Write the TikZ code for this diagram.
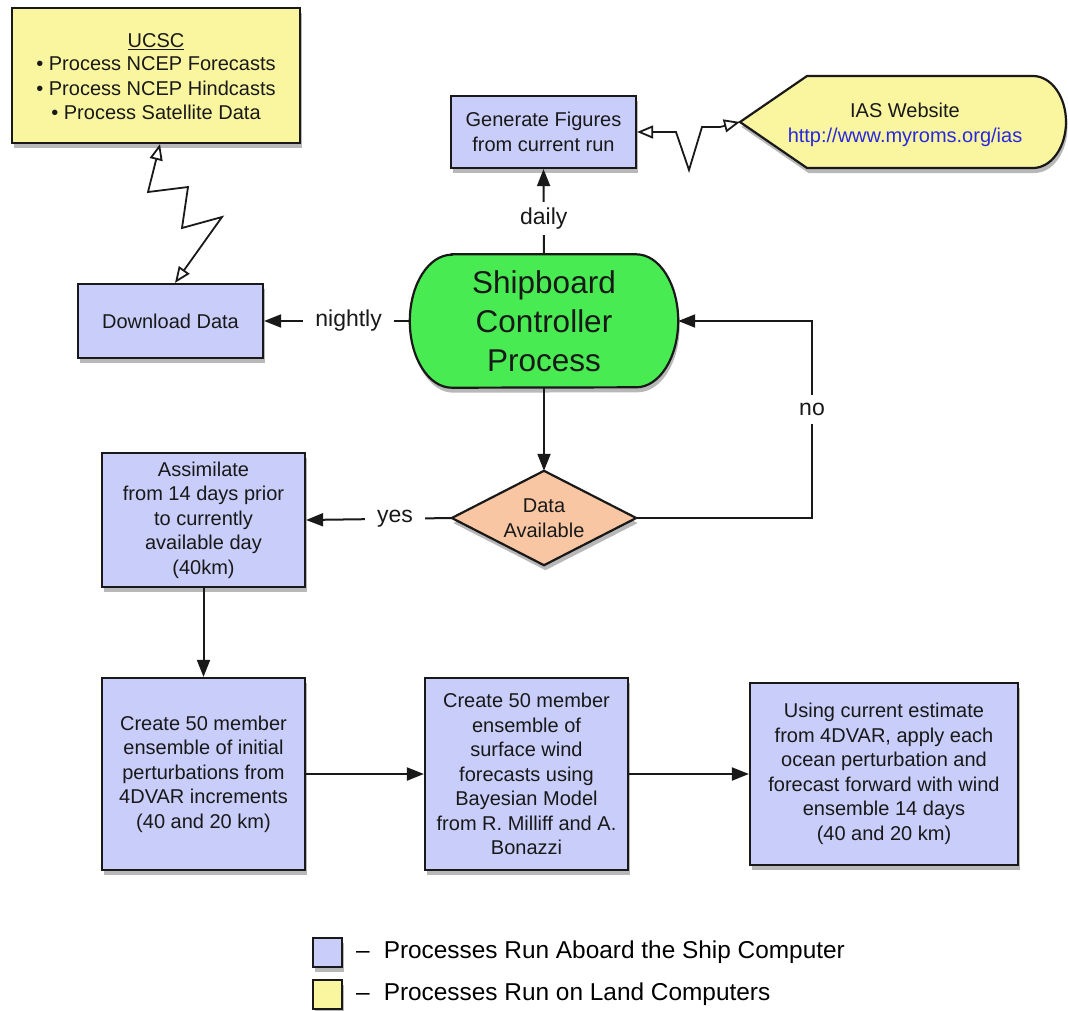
\documentclass[tikz,border=0pt]{standalone}
\usepackage{fontspec}
\setmainfont{Liberation Sans}
\usetikzlibrary{arrows.meta,shadows,calc,backgrounds}
\definecolor{shipblue}{RGB}{200,205,250}
\definecolor{landyellow}{RGB}{250,246,160}
\definecolor{ctrlgreen}{RGB}{72,236,82}
\definecolor{peach}{RGB}{248,198,162}
\definecolor{urlblue}{RGB}{40,40,225}
\definecolor{ink}{RGB}{25,25,25}
\begin{document}
\begin{tikzpicture}[x=1pt,y=-1pt,
  shad/.style={drop shadow={shadow xshift=1.5pt,shadow yshift=-5pt,opacity=.28,fill=black}},
  boxtext/.style={font=\fontsize{20}{24.5}\selectfont, text=ink, align=center},
  bluebox/.style={boxtext, draw=ink, line width=2.2pt, fill=shipblue, inner sep=0pt, shad},
  yellowbox/.style={boxtext, draw=ink, line width=2.2pt, fill=landyellow, inner sep=0pt, shad},
  shapeline/.style={draw=ink, line width=2.2pt, shad},
  arr/.style={draw=ink, line width=2pt, -{Triangle[length=17pt,width=13pt]}},
  bolt/.style={draw=ink, line width=1.8pt, {Triangle[open,length=16pt,width=13pt]}-{Triangle[open,length=16pt,width=13pt]}},
  lbl/.style={fill=white, text=ink, font=\fontsize{23}{28}\selectfont, inner xsep=12pt, inner ysep=6pt},
  legsq/.style={draw=ink, line width=2pt, minimum width=29pt, minimum height=29pt, inner sep=0pt, shad},
  legtext/.style={text=black, font=\fontsize{24.4}{29}\selectfont, anchor=west, inner sep=0pt}
]
\useasboundingbox (0,0) rectangle (1068,1010);

% nodes
\node[yellowbox, minimum width=288pt, minimum height=135pt] (ucsc) at (156,75.5)
  {\rule{0pt}{6pt}\\[-14pt]\underline{UCSC}\\[-1pt]• Process NCEP Forecasts\\• Process NCEP Hindcasts\\• Process Satellite Data};
\node[bluebox, minimum width=185pt, minimum height=72pt] (gen) at (543.5,132) {Generate Figures\\from current run};
\node[bluebox, minimum width=185pt, minimum height=74pt] (dl) at (170.5,321) {Download Data};
\node[boxtext, font=\fontsize{31.5}{39}\selectfont, minimum width=268pt, minimum height=133pt, inner sep=0pt] (ship) at (544,321)
  {Shipboard\\Controller\\Process};
\node[boxtext, minimum width=184pt, minimum height=94pt, inner sep=0pt] (dav) at (544,518) {Data\\Available};
\node[boxtext] (ias) at (905,125) {IAS Website\\\textcolor{urlblue}{http://www.myroms.org/ias}};
\coordinate (iastip) at (740,122);
\node[bluebox, minimum width=203pt, minimum height=134pt] (assim) at (203.5,520)
  {Assimilate\\from 14 days prior\\to currently\\available day\\(40km)};
\node[bluebox, minimum width=203pt, minimum height=192pt] (ens) at (203.5,774)
  {Create 50 member\\ensemble of initial\\perturbations from\\4DVAR increments\\(40 and 20 km)};
\node[bluebox, minimum width=203pt, minimum height=192pt] (wind) at (526.5,774)
  {Create 50 member\\ensemble of\\surface wind\\forecasts using\\Bayesian Model\\from R. Milliff and A.\\Bonazzi};
\node[bluebox, minimum width=268pt, minimum height=182pt] (fcst) at (884,774)
  {Using current estimate\\from 4DVAR, apply each\\ocean perturbation and\\forecast forward with wind\\ensemble 14 days\\(40 and 20 km)};

% shapes drawn behind their texts
\begin{scope}[on background layer]
  \filldraw[shapeline, fill=ctrlgreen]
    ($(ship.north west)+(42,0)$) -- ($(ship.north east)+(-42,0)$)
    arc[start angle=90,end angle=-90,x radius=42pt,y radius=66.5pt]
    -- ($(ship.south west)+(42,0)$)
    arc[start angle=270,end angle=90,x radius=42pt,y radius=66.5pt] -- cycle;
  \filldraw[shapeline, fill=peach] (dav.north) -- (dav.east) -- (dav.south) -- (dav.west) -- cycle;
  \filldraw[shapeline, fill=landyellow] (iastip) -- (807,76) -- (1033,76)
    arc[start angle=90,end angle=-90,x radius=33pt,y radius=46pt] -- (807,168) -- cycle;
\end{scope}

% connectors
\coordinate (nocorner) at (812,518);
\draw[arr] (ship.north) -- node[lbl,pos=0.42,inner xsep=6pt]{daily} (gen.south);
\draw[arr] (ship.west) -- node[lbl,pos=0.42]{nightly} (dl.east);
\draw[arr] (ship.south) -- (dav.north);
\draw[arr] (dav.west) -- node[lbl,pos=0.39]{yes} (assim.east);
\draw[arr] (dav.east) -- (nocorner) -- node[lbl,pos=0.55,inner xsep=4pt,inner ysep=8pt]{no} (nocorner |- ship.east) -- (ship.east);
\draw[arr] (assim.south) -- (ens.north);
\draw[arr] (ens.east) -- (wind.west);
\draw[arr] (wind.east) -- (fcst.west);

\draw[bolt] ([xshift=4pt]ucsc.south) -- (148,192) -- (188,187) -- (182,228) -- (222,217) -- ([xshift=4.5pt]dl.north);
\draw[bolt] (gen.east) -- (676,132) -- (689,170) -- (702,127) -- (720,127) -- (iastip);

% legend
\node[legsq, fill=shipblue] (lg1) at (327.5,952.5) {};
\node[legsq, fill=landyellow] (lg2) at (327.5,994) {};
\node[legtext] (lt1) at ([xshift=13pt]lg1.east) {–\hspace{14pt}Processes Run Aboard the Ship Computer};
\node[legtext] (lt2) at ([xshift=13pt]lg2.east) {–\hspace{14pt}Processes Run on Land Computers};
\end{tikzpicture}
\end{document}
